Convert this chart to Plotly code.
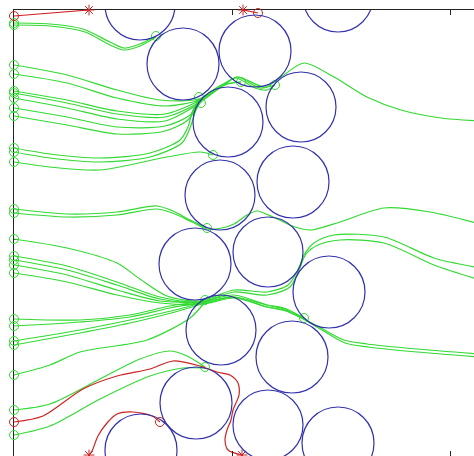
import plotly.graph_objects as go

# ---- grains (blue circles): centre x, centre y, radius (pixel-like data units, y downward)
circle_cx = [140, 183, 255, 338, 301, 228, 293, 220, 268, 195, 329, 221, 292, 196, 268, 338, 141]
circle_cy = [5, 64, 51, -3, 107, 122, 182, 195, 252, 264, 292, 330, 357, 403, 425, 443, 450]
circle_r = [35, 36, 36, 35, 35, 35, 36, 35, 35, 36, 36, 35, 36, 36, 35, 36, 36]

# ---- green trajectories
green_x = [
    [14, 50, 83, 110, 124, 140, 156],
    [14, 50, 85, 110, 124, 140, 156],
    [14, 67, 117, 160, 199, 222, 241],
    [14, 67, 117, 165, 199, 225, 236, 255, 267, 275],
    [14, 67, 117, 165, 199],
    [14, 67, 117, 165, 200, 225, 237, 260, 275],
    [14, 67, 117, 165, 200],
    [14, 67, 117, 165, 190, 200, 225, 238, 265, 281, 304, 334, 367, 401, 441, 480],
    [14, 67, 117, 165, 188, 200, 225, 241],
    [14, 50, 100, 150, 180, 188, 193, 199],
    [14, 50, 100, 150, 182, 190, 196, 201],
    [14, 50, 100, 167, 200, 213],
    [14, 67, 117, 157, 173, 190, 207],
    [14, 67, 117, 157, 175, 192, 207, 222, 234, 247, 257, 275, 295, 311, 340, 384, 430, 480],
    [14, 67, 117, 140, 167, 200, 234, 267, 288, 298, 304, 314, 334, 384, 434, 480],
    [14, 67, 117, 160, 201, 234, 267, 290, 299, 306, 318, 340, 384, 434, 480],
    [14, 67, 117, 160, 202, 234, 267, 284, 304],
    [14, 67, 117, 160, 205],
    [14, 67, 117, 160, 203, 234, 267, 284, 304, 321, 344, 367, 417, 480],
    [14, 80, 130, 170, 205, 234, 267, 284, 304],
    [14, 80, 130, 170, 205, 234, 267, 286, 305, 322, 345, 368, 417, 480],
    [14, 80, 130, 175, 205],
    [14, 80, 130, 175, 205],
    [14, 50, 80, 147, 190, 205],
    [14, 50, 100, 140, 170, 187, 205],
    [14, 50, 100, 150, 183, 205],
]
green_y = [
    [23, 24, 29, 42, 48, 44, 36],
    [25, 26, 32, 45, 50, 46, 37],
    [65, 75, 90, 100, 99, 85, 82],
    [74, 83, 98, 106, 100, 84, 78, 88, 90, 85],
    [91, 100, 111, 114, 101],
    [93, 103, 114, 117, 102, 84, 77, 88, 85],
    [98, 108, 119, 121, 103],
    [108, 117, 127, 126, 115, 100, 83, 77, 87, 77, 63, 77, 97, 110, 118, 121],
    [116, 125, 134, 131, 120, 103, 85, 82],
    [148, 154, 158, 153, 140, 127, 110, 100],
    [152, 158, 162, 157, 143, 128, 110, 101],
    [162, 167, 170, 157, 152, 155],
    [209, 214, 212, 206, 211, 220, 228],
    [213, 217, 215, 209, 214, 222, 229, 228, 224, 215, 211, 218, 227, 230, 222, 208, 212, 224],
    [239, 248, 263, 279, 296, 301, 290, 292, 285, 270, 255, 243, 235, 237, 258, 268],
    [256, 266, 282, 297, 302, 292, 295, 287, 270, 254, 245, 240, 243, 265, 280],
    [260, 270, 285, 299, 303, 297, 305, 308, 318],
    [265, 275, 290, 301, 302],
    [273, 282, 295, 303, 304, 298, 307, 310, 319, 328, 340, 344, 349, 354],
    [319, 320, 315, 306, 301, 295, 305, 309, 318],
    [326, 322, 317, 308, 302, 297, 307, 311, 320, 330, 343, 347, 352, 357],
    [341, 330, 320, 310, 302],
    [345, 333, 323, 312, 303],
    [375, 365, 352, 340, 318, 302],
    [410, 404, 379, 359, 351, 356, 367],
    [435, 426, 399, 376, 368, 368],
]
green_end_x = [156, 199, 201, 241, 275, 213, 207, 205, 304, 205]
green_end_y = [36, 97, 103, 82, 85, 155, 228, 300, 318, 367]

# ---- red trajectories
red_x = [
    [14, 89],
    [258, 243],
    [14, 43, 83, 117, 150, 173, 200, 217, 230, 238, 239, 233, 231, 227, 225, 228, 242],
    [160, 152, 133, 117, 107, 98, 92, 89],
]
red_y = [
    [16, 10],
    [13, 10],
    [422, 416, 389, 376, 369, 361, 366, 372, 375, 383, 395, 410, 420, 430, 440, 450, 455],
    [422, 416, 412, 414, 423, 436, 451, 455],
]

# ---- axis ticks (data units)
x_ticks = [232, 450]
y_ticks = [239]

GREEN = "rgb(50,218,50)"
BLUE = "rgb(50,50,172)"
RED = "rgb(205,35,35)"
AXIS = "rgb(35,35,35)"

fig = go.Figure()

for xs, ys in zip(green_x, green_y):
    fig.add_trace(go.Scatter(x=xs, y=ys, mode="lines", line=dict(color=GREEN, width=1.2, shape="spline", smoothing=0.8),
                             hoverinfo="skip", showlegend=False))
for xs, ys in zip(red_x, red_y):
    fig.add_trace(go.Scatter(x=xs, y=ys, mode="lines", line=dict(color=RED, width=1.2, shape="spline", smoothing=0.8),
                             hoverinfo="skip", showlegend=False))

# start / end markers
fig.add_trace(go.Scatter(x=[p[0] for p in green_x], y=[p[0] for p in green_y], mode="markers",
                         marker=dict(symbol="circle-open", size=9, color=GREEN, line=dict(width=1)),
                         cliponaxis=False, showlegend=False, hoverinfo="skip"))
fig.add_trace(go.Scatter(x=green_end_x, y=green_end_y, mode="markers",
                         marker=dict(symbol="circle-open", size=9, color=GREEN, line=dict(width=1)),
                         cliponaxis=False, showlegend=False, hoverinfo="skip"))
fig.add_trace(go.Scatter(x=[p[0] for p in red_x], y=[p[0] for p in red_y], mode="markers",
                         marker=dict(symbol="circle-open", size=9, color=RED, line=dict(width=1)),
                         cliponaxis=False, showlegend=False, hoverinfo="skip"))
fig.add_trace(go.Scatter(x=[p[-1] for p in red_x], y=[p[-1] for p in red_y], mode="markers",
                         marker=dict(symbol="asterisk-open", size=9, color=RED, line=dict(width=1, color=RED)),
                         cliponaxis=False, showlegend=False, hoverinfo="skip"))

for cx, cy, r in zip(circle_cx, circle_cy, circle_r):
    fig.add_shape(type="circle", xref="x", yref="y", x0=cx - r, x1=cx + r, y0=cy - r, y1=cy + r,
                  line=dict(color=BLUE, width=1.2), layer="above")

# dummy trace for bottom tick axis
fig.add_trace(go.Scatter(x=[None], y=[None], xaxis="x2", showlegend=False, hoverinfo="skip"))

fig.update_layout(
    width=474, height=456,
    margin=dict(l=14, r=0, t=10, b=0),
    paper_bgcolor="white", plot_bgcolor="white",
    xaxis=dict(range=[14, 474], side="top", showline=True, linecolor=AXIS, linewidth=1,
               ticks="inside", ticklen=5, tickcolor=AXIS, tickvals=x_ticks, showticklabels=False,
               showgrid=False, zeroline=False, layer="below traces"),
    xaxis2=dict(range=[14, 474], overlaying="x", side="bottom", showline=False,
                ticks="inside", ticklen=5, tickcolor=AXIS, tickvals=x_ticks, showticklabels=False,
                showgrid=False, zeroline=False),
    yaxis=dict(range=[456, 10], showline=True, linecolor=AXIS, linewidth=1,
               ticks="inside", ticklen=5, tickcolor=AXIS, tickvals=y_ticks, showticklabels=False,
               showgrid=False, zeroline=False, layer="below traces"),
)

fig.write_html("out.html", config={"displayModeBar": False},
               post_script="document.body.style.margin='0';document.body.style.overflow='hidden';")
